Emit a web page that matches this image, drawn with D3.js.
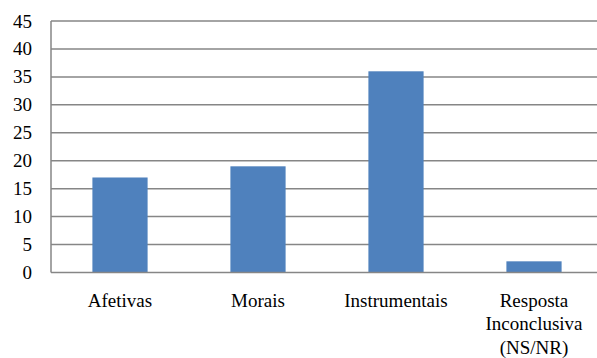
<!DOCTYPE html>
<html>
<head>
<meta charset="utf-8">
<script src="https://cdn.jsdelivr.net/npm/d3@7"></script>
<style>
  html, body { margin: 0; padding: 0; background: #fff; }
  svg { display: block; }
  svg text { font-family: "Liberation Serif", "Times New Roman", "Liberation Sans", Arial, sans-serif; font-size: 19px; fill: #000; }
</style>
</head>
<body>
<svg id="chart" width="597" height="358"></svg>
<script>
const categories = ["Afetivas", "Morais", "Instrumentais", "Resposta Inconclusiva (NS/NR)"];
const categoryLines = [["Afetivas"], ["Morais"], ["Instrumentais"], ["Resposta", "Inconclusiva", "(NS/NR)"]];
const values = [17, 19, 36, 2];
const yTicks = [0, 5, 10, 15, 20, 25, 30, 35, 40, 45];

const svg = d3.select("#chart");
const plotLeft = 51, plotRight = 603, plotTop = 21, plotBottom = 272.5;

const x = d3.scaleBand().domain(categories).range([plotLeft, plotRight]).paddingInner(0.6).paddingOuter(0.3);
const y = d3.scaleLinear().domain([0, 45]).range([plotBottom, plotTop]);

// horizontal gridlines
svg.append("g").selectAll("line").data(yTicks.filter(d => d > 0)).join("line")
  .attr("x1", plotLeft).attr("x2", plotRight)
  .attr("y1", d => y(d)).attr("y2", d => y(d))
  .attr("stroke", "#868686").attr("stroke-width", 1.5);

// bars
svg.append("g").selectAll("rect").data(values).join("rect")
  .attr("x", (d, i) => x(categories[i]))
  .attr("width", x.bandwidth())
  .attr("y", d => y(d))
  .attr("height", d => y(0) - y(d))
  .attr("fill", "#4F81BD");

// axis lines
svg.append("line").attr("x1", plotLeft).attr("x2", plotLeft).attr("y1", plotTop).attr("y2", plotBottom)
  .attr("stroke", "#868686").attr("stroke-width", 1.5);
svg.append("line").attr("x1", plotLeft).attr("x2", plotRight).attr("y1", plotBottom).attr("y2", plotBottom)
  .attr("stroke", "#868686").attr("stroke-width", 1.5);

// y tick labels
svg.append("g").selectAll("text").data(yTicks).join("text")
  .attr("x", 32).attr("y", d => y(d) + 6.5)
  .attr("text-anchor", "end")
  .text(d => d);

// category labels
const cat = svg.append("g").selectAll("text").data(categories).join("text")
  .attr("text-anchor", "middle")
  .attr("x", d => x(d) + x.bandwidth() / 2)
  .attr("y", 306.5);
cat.each(function(d, i) {
  d3.select(this).selectAll("tspan").data(categoryLines[i]).join("tspan")
    .attr("x", x(d) + x.bandwidth() / 2)
    .attr("dy", (t, j) => j === 0 ? 0 : 23.5)
    .text(t => t);
});
</script>
</body>
</html>
